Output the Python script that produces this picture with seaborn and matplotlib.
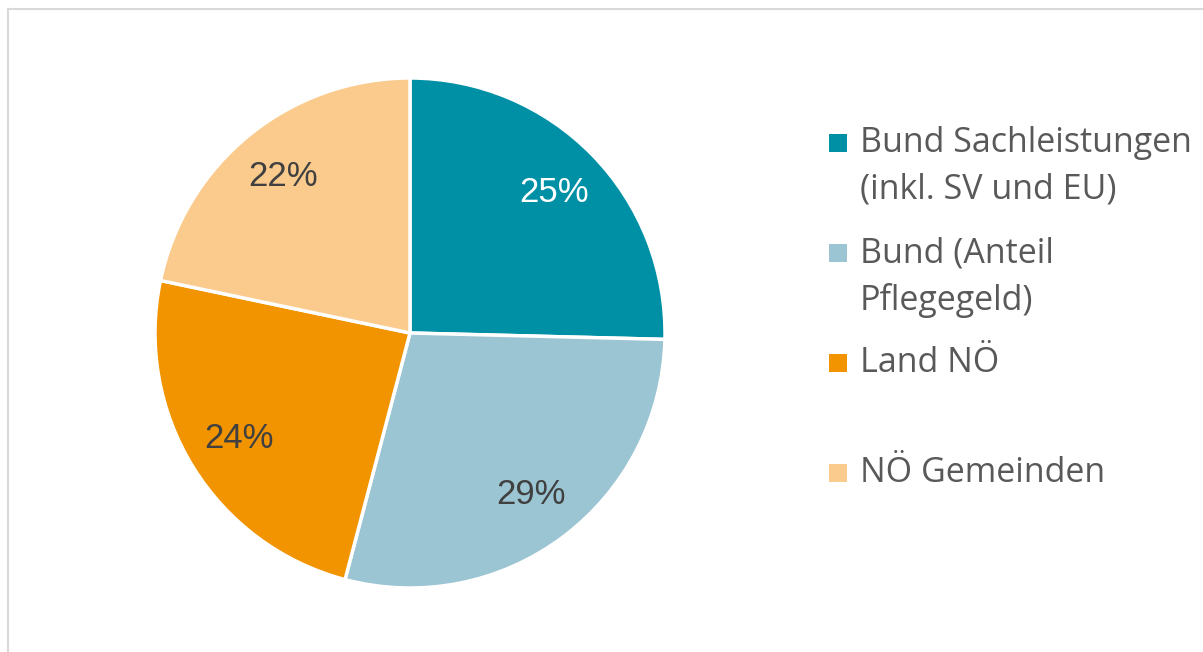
import matplotlib
matplotlib.use("Agg")
import matplotlib.pyplot as plt
import seaborn as sns
from matplotlib.patches import Rectangle
from matplotlib.lines import Line2D

# Data
labels = [["Bund Sachleistungen", "(inkl. SV und EU)"],
          ["Bund (Anteil", "Pflegegeld)"],
          ["Land NÖ"],
          ["NÖ Gemeinden"]]
shares = [25.4, 28.7, 24.2, 21.7]
colors = ["#0090A6", "#9BC5D3", "#F29400", "#FACB8D"]
pct_colors = ["white", "#404040", "#404040", "#404040"]

sns.set_theme(style="white")
plt.rcParams['font.family'] = ['Liberation Sans', 'DejaVu Sans']

W, H = 1203, 652
fig = plt.figure(figsize=(W / 100, H / 100), dpi=100)

# chart frame (top and left edge visible)
fig.add_artist(Line2D([8 / W, 8 / W], [0, 1 - 9 / H], color="#d9d9d9", lw=1.5, transform=fig.transFigure))
fig.add_artist(Line2D([8 / W, 1], [1 - 9 / H, 1 - 9 / H], color="#d9d9d9", lw=1.5, transform=fig.transFigure))

# pie centred at (410, 333) px, radius 255 px
cx, cy, r = 410, 333, 255
ax = fig.add_axes([(cx - r) / W, (H - cy - r) / H, 2 * r / W, 2 * r / H])
wedges, texts, autotexts = ax.pie(
    shares,
    colors=colors,
    startangle=90,
    counterclock=False,
    autopct="%.0f%%",
    pctdistance=0.79,
    wedgeprops=dict(edgecolor="white", linewidth=2.5),
    textprops=dict(fontsize=25),
)
for t, c in zip(autotexts, pct_colors):
    t.set_color(c)
ax.set_xlim(-1, 1)
ax.set_ylim(-1, 1)
ax.axis("off")

# legend drawn by hand: square + label lines
entry_tops = [143, 253, 363, 473]
line_gap = 47
for lines, col, y in zip(labels, colors, entry_tops):
    fig.add_artist(Rectangle((829 / W, 1 - (y + 9) / H), 18 / W, 18 / H,
                             facecolor=col, edgecolor="none", transform=fig.transFigure))
    for i, line in enumerate(lines):
        fig.text(860 / W, 1 - (y + i * line_gap) / H, line, fontsize=24.5, color="#595959",
                 va="center", ha="left", family=["Open Sans", "DejaVu Sans"])

fig.savefig("out.png", dpi=100)
